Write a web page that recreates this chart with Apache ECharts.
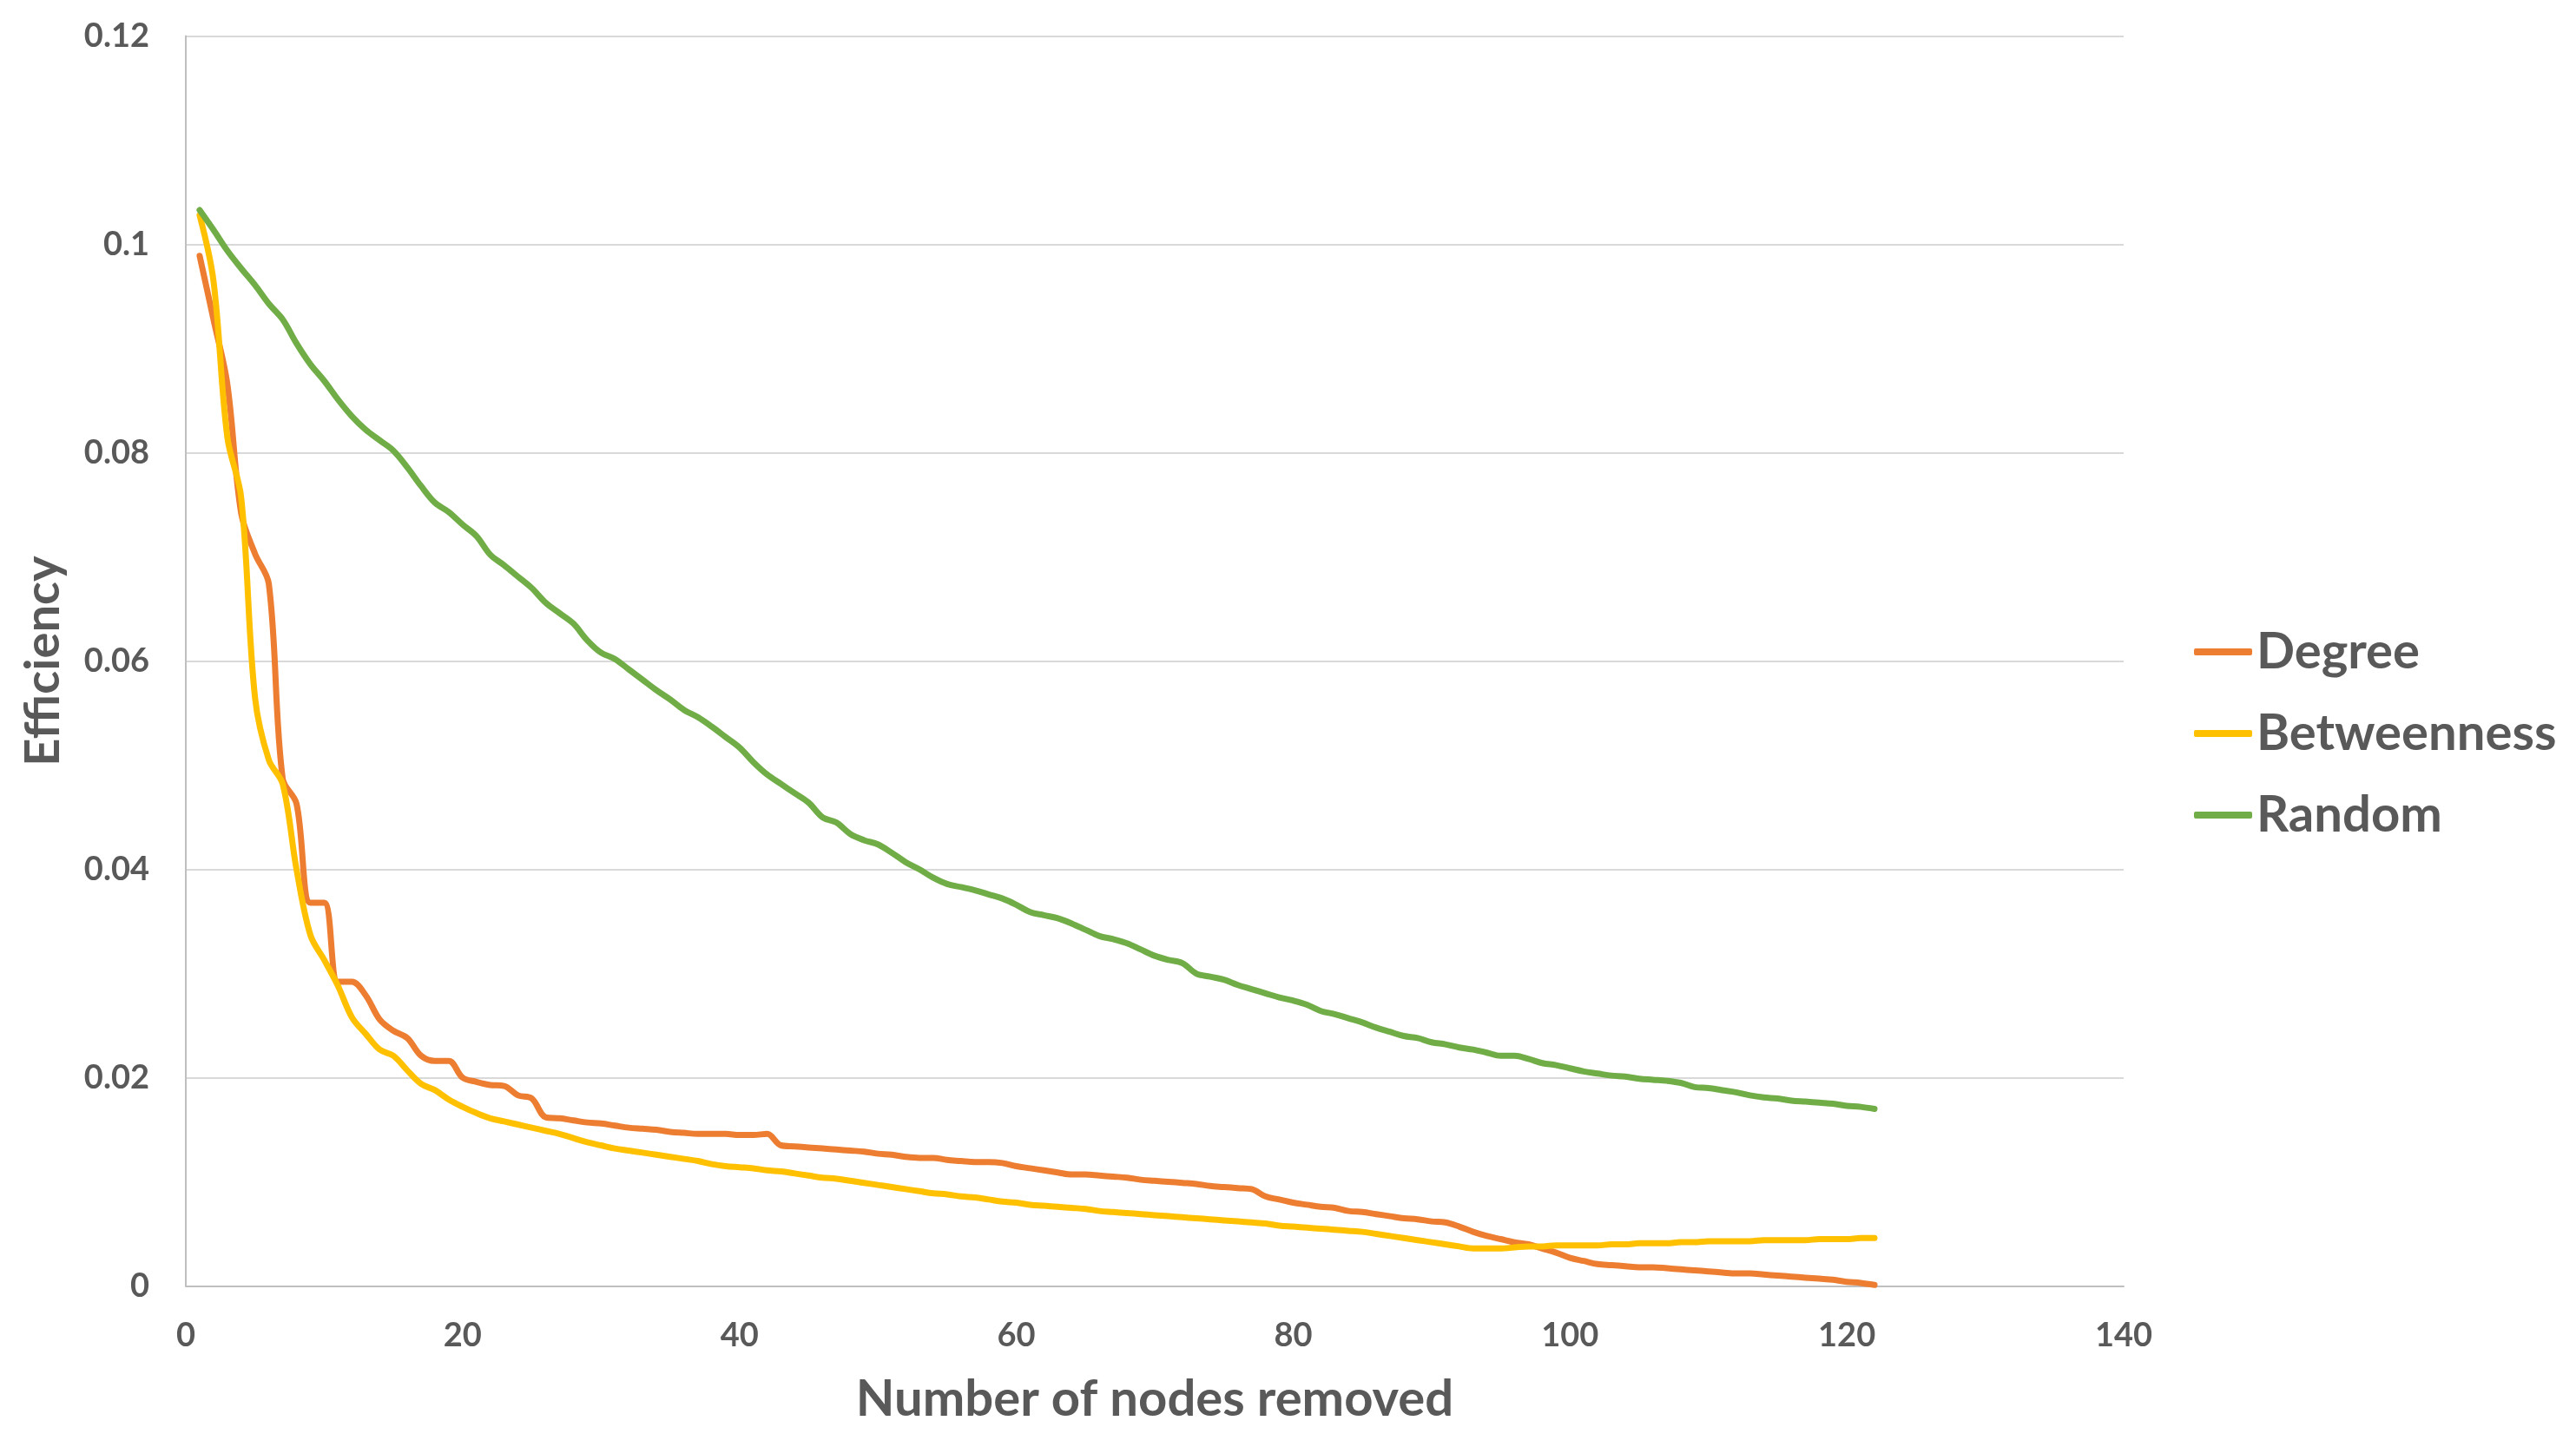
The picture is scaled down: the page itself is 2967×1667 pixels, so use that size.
<!DOCTYPE html>
<html>
<head>
<meta charset="utf-8">
<script src="https://cdn.jsdelivr.net/npm/echarts@6/dist/echarts.min.js"></script>
<style>
html,body{margin:0;padding:0;background:#fff;}
#chart{width:2967px;height:1667px;}
</style>
</head>
<body>
<div id="chart"></div>
<script>
const nodesRemoved = [1,2,3,4,5,6,7,8,9,10,11,12,13,14,15,16,17,18,19,20,21,22,23,24,25,26,27,28,29,30,31,32,33,34,35,36,37,38,39,40,41,42,43,44,45,46,47,48,49,50,51,52,53,54,55,56,57,58,59,60,61,62,63,64,65,66,67,68,69,70,71,72,73,74,75,76,77,78,79,80,81,82,83,84,85,86,87,88,89,90,91,92,93,94,95,96,97,98,99,100,101,102,103,104,105,106,107,108,109,110,111,112,113,114,115,116,117,118,119,120,121,122];

const degree = [0.0989,0.0928,0.0866,0.0742,0.0703,0.0674,0.0487,0.0463,0.0368,0.0368,
0.0292,0.0292,0.0279,0.0256,0.0245,0.0238,0.0221,0.0216,0.0216,0.0200,
0.0196,0.0193,0.0192,0.0183,0.0180,0.0162,0.0161,0.0159,0.0157,0.0156,
0.0154,0.0152,0.0151,0.0150,0.0148,0.0147,0.0146,0.0146,0.0146,0.0145,
0.0145,0.0146,0.0135,0.0134,0.0133,0.0132,0.0131,0.0130,0.0129,0.0127,
0.0126,0.0124,0.0123,0.0123,0.0121,0.0120,0.0119,0.0119,0.0118,0.0115,
0.0113,0.0111,0.0109,0.0107,0.0107,0.0106,0.0105,0.0104,0.0102,0.0101,
0.0100,0.0099,0.0098,0.0096,0.0095,0.0094,0.0093,0.0086,0.0083,0.0080,
0.0078,0.0076,0.0075,0.0072,0.0071,0.0069,0.0067,0.0065,0.0064,0.0062,
0.0061,0.0057,0.0052,0.0048,0.0045,0.0042,0.0040,0.0036,0.0032,0.0027,
0.0024,0.0021,0.0020,0.0019,0.0018,0.0018,0.0017,0.0016,0.0015,0.0014,
0.0013,0.0012,0.0012,0.0011,0.0010,0.0009,0.0008,0.0007,0.0006,0.0004,
0.0003,0.0001];

const betweenness = [0.1028,0.0965,0.0815,0.0757,0.0565,0.0505,0.0482,0.0400,0.0337,0.0313,
0.0288,0.0258,0.0242,0.0227,0.0221,0.0207,0.0194,0.0188,0.0179,0.0172,
0.0166,0.0161,0.0158,0.0155,0.0152,0.0149,0.0146,0.0142,0.0138,0.0135,
0.0132,0.0130,0.0128,0.0126,0.0124,0.0122,0.0120,0.0117,0.0115,0.0114,
0.0113,0.0111,0.0110,0.0108,0.0106,0.0104,0.0103,0.0101,0.0099,0.0097,
0.0095,0.0093,0.0091,0.0089,0.0088,0.0086,0.0085,0.0083,0.0081,0.0080,
0.0078,0.0077,0.0076,0.0075,0.0074,0.0072,0.0071,0.0070,0.0069,0.0068,
0.0067,0.0066,0.0065,0.0064,0.0063,0.0062,0.0061,0.0060,0.0058,0.0057,
0.0056,0.0055,0.0054,0.0053,0.0052,0.0050,0.0048,0.0046,0.0044,0.0042,
0.0040,0.0038,0.0036,0.0036,0.0036,0.0037,0.0038,0.0038,0.0039,0.0039,
0.0039,0.0039,0.0040,0.0040,0.0041,0.0041,0.0041,0.0042,0.0042,0.0043,
0.0043,0.0043,0.0043,0.0044,0.0044,0.0044,0.0044,0.0045,0.0045,0.0045,
0.0046,0.0046];

const random = [0.1033,0.1014,0.0994,0.0977,0.0961,0.0943,0.0928,0.0905,0.0885,0.0869,
0.0851,0.0835,0.0822,0.0812,0.0802,0.0786,0.0768,0.0752,0.0743,0.0731,
0.0720,0.0702,0.0692,0.0681,0.0670,0.0656,0.0646,0.0636,0.0620,0.0608,
0.0602,0.0592,0.0582,0.0572,0.0563,0.0553,0.0546,0.0537,0.0527,0.0517,
0.0503,0.0491,0.0482,0.0473,0.0464,0.0450,0.0445,0.0434,0.0428,0.0424,
0.0416,0.0407,0.0400,0.0392,0.0386,0.0383,0.0380,0.0376,0.0372,0.0366,
0.0359,0.0356,0.0353,0.0348,0.0342,0.0336,0.0333,0.0329,0.0323,0.0317,
0.0313,0.0310,0.0300,0.0297,0.0294,0.0289,0.0285,0.0281,0.0277,0.0274,
0.0270,0.0264,0.0261,0.0257,0.0253,0.0248,0.0244,0.0240,0.0238,0.0234,
0.0232,0.0229,0.0227,0.0224,0.0221,0.0221,0.0218,0.0214,0.0212,0.0209,
0.0206,0.0204,0.0202,0.0201,0.0199,0.0198,0.0197,0.0195,0.0191,0.0190,
0.0188,0.0186,0.0183,0.0181,0.0180,0.0178,0.0177,0.0176,0.0175,0.0173,
0.0172,0.0170];

const seriesNames = ['Degree','Betweenness','Random'];
const seriesColors = ['#ED7D31','#FFC000','#70AD47'];
const seriesValues = [degree, betweenness, random];

const FONT = 'Lato';
const TXT = '#595959';

const chart = echarts.init(document.getElementById('chart'), null, {renderer:'canvas'});
chart.setOption({
  backgroundColor:'#ffffff',
  animation:false,
  grid:{left:214, right:521, top:41.6, bottom:185.5, containLabel:false},
  legend:{
    orient:'vertical', left:2522, top:716,
    itemWidth:67, itemHeight:8, itemGap:34,
    icon:'roundRect',
    textStyle:{fontFamily:FONT, fontWeight:'bold', fontSize:58, color:TXT, lineHeight:60},
    data:seriesNames
  },
  xAxis:{
    type:'value', min:0, max:140, interval:20,
    name:'Number of nodes removed', nameLocation:'middle', nameGap:102,
    nameTextStyle:{fontFamily:FONT, fontWeight:'bold', fontSize:58, color:TXT},
    axisLine:{show:true, lineStyle:{color:'#BFBFBF', width:2}},
    axisTick:{show:false},
    splitLine:{show:false},
    axisLabel:{fontFamily:FONT, fontWeight:'bold', fontSize:38, color:TXT, margin:38}
  },
  yAxis:{
    type:'value', min:0, max:0.12, interval:0.02,
    name:'Efficiency', nameLocation:'middle', nameGap:136,
    nameTextStyle:{fontFamily:FONT, fontWeight:'bold', fontSize:56, color:TXT},
    axisLine:{show:true, lineStyle:{color:'#BFBFBF', width:2}},
    axisTick:{show:false},
    splitLine:{show:true, lineStyle:{color:'#D9D9D9', width:2}},
    axisLabel:{fontFamily:FONT, fontWeight:'bold', fontSize:38, color:TXT, margin:42}
  },
  series: seriesNames.map((n,i)=>({
    name:n, type:'line', smooth:0.35, showSymbol:false, symbol:'none',
    data: nodesRemoved.map((x,j)=>[x, seriesValues[i][j]]),
    itemStyle:{color:seriesColors[i]},
    lineStyle:{color:seriesColors[i], width:7, cap:'round', join:'round'}
  }))
});
</script>
</body>
</html>
